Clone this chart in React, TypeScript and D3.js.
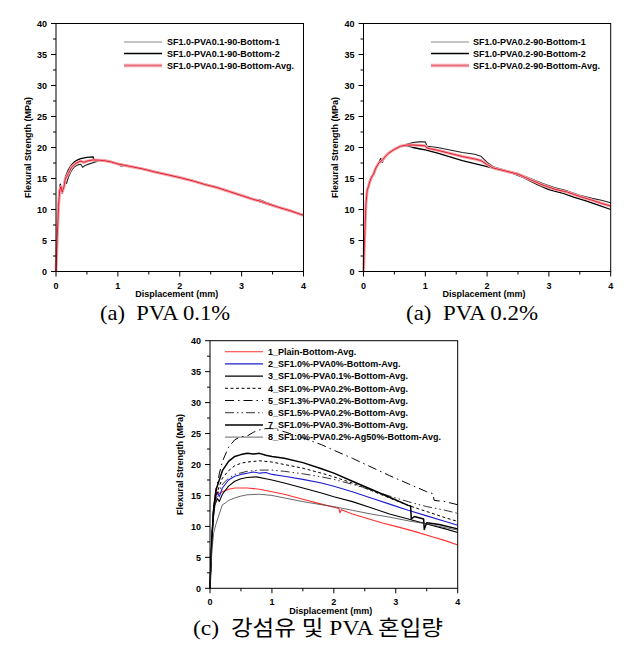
import React from "react";
import * as d3 from "d3";

type Pt = [number, number];

// ---------- tick values ----------
const xTickValues = [0, 1, 2, 3, 4];
const xMinorValues = [0.5, 1.5, 2.5, 3.5];
const yTickValues = [0, 5, 10, 15, 20, 25, 30, 35, 40];
const yMinorValues = [2.5, 7.5, 12.5, 17.5, 22.5, 27.5, 32.5, 37.5];

// ---------- panel (a) PVA 0.1 ----------
const a01Names = ["SF1.0-PVA0.1-90-Bottom-1", "SF1.0-PVA0.1-90-Bottom-2", "SF1.0-PVA0.1-90-Bottom-Avg."];
const a01Spec1: Pt[] = [[0,0],[0.02,5],[0.04,10],[0.06,12.8],[0.08,13.6],[0.1,12.6],[0.13,13.6],[0.15,14.6],[0.17,14.2],[0.2,15.2],[0.25,16.3],[0.3,16.9],[0.35,17.2],[0.4,17.3],[0.43,16.8],[0.47,17.1],[0.55,17.4],[0.65,17.7],[0.7,17.9],[0.8,17.8],[0.9,17.6],[1.0,17.3],[1.05,17.0],[1.1,17.1],[1.2,16.9],[1.4,16.5],[1.6,16.0],[1.8,15.6],[2.0,15.2],[2.2,14.6],[2.4,14.0],[2.6,13.5],[2.8,12.9],[3.0,12.3],[3.2,11.6],[3.3,11.2],[3.4,10.9],[3.6,10.3],[3.8,9.7],[4.0,9.0]];
const a01Spec2: Pt[] = [[0,0],[0.02,6],[0.04,11],[0.06,13.4],[0.07,14.1],[0.09,13.1],[0.1,12.7],[0.12,13.6],[0.15,15.2],[0.2,16.4],[0.25,17.2],[0.3,17.7],[0.35,18.0],[0.4,18.2],[0.5,18.4],[0.6,18.5],[0.62,17.8],[0.66,18.0],[0.7,18.0],[0.8,17.9],[0.9,17.7],[1.0,17.4],[1.2,17.0],[1.4,16.6],[1.6,16.1],[1.8,15.6],[2.0,15.1],[2.2,14.7],[2.4,14.1],[2.6,13.6],[2.8,12.9],[3.0,12.2],[3.2,11.6],[3.3,11.5],[3.4,11.1],[3.6,10.4],[3.8,9.8],[4.0,9.1]];
const a01Avg: Pt[] = [[0,0],[0.02,5.5],[0.04,10.5],[0.06,13.1],[0.08,13.7],[0.1,12.8],[0.13,13.7],[0.15,14.9],[0.2,15.8],[0.25,16.8],[0.3,17.3],[0.35,17.6],[0.4,17.8],[0.45,17.6],[0.5,17.8],[0.6,18.0],[0.7,17.95],[0.8,17.85],[0.9,17.65],[1.0,17.35],[1.2,16.95],[1.4,16.55],[1.6,16.05],[1.8,15.6],[2.0,15.15],[2.2,14.65],[2.4,14.05],[2.6,13.55],[2.8,12.9],[3.0,12.25],[3.2,11.6],[3.3,11.35],[3.4,11.0],[3.6,10.35],[3.8,9.75],[4.0,9.05]];

// ---------- panel (a) PVA 0.2 ----------
const a02Names = ["SF1.0-PVA0.2-90-Bottom-1", "SF1.0-PVA0.2-90-Bottom-2", "SF1.0-PVA0.2-90-Bottom-Avg."];
const a02Spec1: Pt[] = [[0,0],[0.02,6],[0.04,11],[0.06,13.2],[0.08,13.9],[0.1,14.3],[0.13,15.0],[0.16,15.8],[0.2,16.8],[0.25,17.5],[0.3,18.1],[0.4,19.0],[0.5,19.7],[0.6,20.2],[0.7,20.5],[0.8,20.8],[0.9,20.9],[1.0,20.9],[1.03,20.2],[1.2,20.0],[1.4,19.6],[1.6,19.2],[1.8,18.9],[1.9,18.6],[2.0,17.6],[2.1,16.9],[2.3,16.3],[2.5,15.8],[2.7,15.0],[2.9,14.2],[3.1,13.5],[3.3,13.0],[3.5,12.3],[3.7,11.8],[3.85,11.5],[4.0,11.1]];
const a02Spec2: Pt[] = [[0,0],[0.02,6],[0.04,11],[0.06,13.0],[0.08,13.5],[0.1,14.6],[0.13,15.4],[0.16,15.5],[0.2,16.6],[0.25,17.6],[0.28,18.2],[0.3,17.6],[0.35,18.5],[0.4,19.1],[0.5,19.7],[0.6,20.2],[0.7,20.3],[0.8,20.0],[0.9,19.8],[1.0,19.6],[1.2,19.1],[1.4,18.5],[1.6,17.9],[1.8,17.4],[2.0,16.9],[2.2,16.4],[2.4,15.9],[2.6,15.1],[2.8,14.1],[3.0,13.2],[3.2,12.7],[3.4,12.0],[3.6,11.4],[3.8,10.7],[4.0,10.0]];
const a02Avg: Pt[] = [[0,0],[0.02,6],[0.04,11],[0.06,13.1],[0.08,13.7],[0.1,14.45],[0.13,15.2],[0.16,15.65],[0.2,16.7],[0.25,17.55],[0.3,17.9],[0.35,18.5],[0.4,19.05],[0.5,19.7],[0.6,20.2],[0.7,20.4],[0.8,20.4],[0.9,20.35],[1.0,20.25],[1.03,19.9],[1.2,19.55],[1.4,19.05],[1.6,18.55],[1.8,18.15],[1.9,17.9],[2.0,17.25],[2.1,16.7],[2.3,16.2],[2.5,15.7],[2.7,14.8],[2.9,13.95],[3.1,13.25],[3.3,12.8],[3.5,12.1],[3.7,11.5],[3.85,11.0],[4.0,10.55]];

// ---------- panel (c) ----------
const cNames = [
  "1_Plain-Bottom-Avg.",
  "2_SF1.0%-PVA0%-Bottom-Avg.",
  "3_SF1.0%-PVA0.1%-Bottom-Avg.",
  "4_SF1.0%-PVA0.2%-Bottom-Avg.",
  "5_SF1.3%-PVA0.2%-Bottom-Avg.",
  "6_SF1.5%-PVA0.2%-Bottom-Avg.",
  "7_SF1.0%-PVA0.3%-Bottom-Avg.",
  "8_SF1.0%-PVA0.2%-Ag50%-Bottom-Avg.",
];
const c1: Pt[] = [[0,0],[0.02,6],[0.05,12],[0.08,15],[0.1,16.2],[0.12,15.2],[0.15,15.3],[0.2,15.6],[0.3,16],[0.4,16.2],[0.5,16.2],[0.6,16.2],[0.8,16.0],[1.0,15.6],[1.2,15.2],[1.5,14.4],[1.8,13.6],[2.0,13.1],[2.08,12.9],[2.1,12.2],[2.12,12.7],[2.3,12.0],[2.5,11.4],[2.8,10.5],[3.0,10.0],[3.3,9.2],[3.6,8.3],[3.8,7.7],[4.0,7.0]];
const c2: Pt[] = [[0,0],[0.02,6],[0.05,12],[0.08,14.5],[0.12,15.5],[0.15,14.8],[0.2,16.2],[0.3,17.5],[0.4,18.1],[0.5,18.4],[0.6,18.6],[0.7,18.8],[0.8,18.6],[0.9,18.7],[1.0,18.4],[1.2,18.1],[1.5,17.6],[1.8,17.0],[2.0,16.5],[2.3,15.6],[2.6,14.6],[2.9,13.6],[3.2,12.6],[3.5,11.7],[3.8,10.8],[4.0,10.2]];
const c3: Pt[] = [[0,0],[0.02,6],[0.05,11],[0.08,13.5],[0.12,14.5],[0.15,14.0],[0.2,15.2],[0.3,16.5],[0.4,17.3],[0.5,17.7],[0.6,17.9],[0.75,18.0],[0.9,17.7],[1.0,17.5],[1.2,17.0],[1.5,16.2],[1.8,15.4],[2.0,14.8],[2.3,14.0],[2.6,13.0],[2.9,12.0],[3.2,11.2],[3.5,10.4],[3.8,9.6],[4.0,9.0]];
const c4: Pt[] = [[0,0],[0.03,8],[0.06,13],[0.1,15],[0.15,16.5],[0.2,17.8],[0.3,19.0],[0.4,19.8],[0.5,20.2],[0.6,20.4],[0.8,20.6],[1.0,20.4],[1.2,20.0],[1.5,19.4],[1.8,18.6],[2.0,18.0],[2.3,17.0],[2.6,15.8],[2.9,14.6],[3.2,13.4],[3.5,12.4],[3.8,11.4],[4.0,10.8]];
const c5: Pt[] = [[0,0],[0.03,8],[0.06,13],[0.1,16],[0.15,18.5],[0.2,20.5],[0.3,22.8],[0.4,24.0],[0.5,24.5],[0.6,24.6],[0.7,25.2],[0.8,25.6],[0.9,25.8],[1.0,25.8],[1.2,25.3],[1.5,24.3],[1.8,23.2],[2.0,22.3],[2.3,21.0],[2.6,19.6],[2.9,18.2],[3.2,16.9],[3.5,15.6],[3.6,15.3],[3.62,14.2],[3.8,14.0],[4.0,13.5]];
const c6: Pt[] = [[0,0],[0.03,8],[0.06,12.5],[0.1,14.5],[0.15,15.8],[0.2,16.8],[0.3,17.8],[0.4,18.4],[0.6,18.9],[0.8,19.1],[1.0,19.1],[1.2,18.9],[1.5,18.5],[1.8,18.0],[2.0,17.6],[2.3,16.8],[2.6,15.9],[2.9,14.9],[3.2,14.0],[3.5,13.2],[3.8,12.6],[4.0,12.1]];
const c7: Pt[] = [[0,0],[0.03,8],[0.06,13],[0.1,16],[0.15,17.5],[0.2,19.0],[0.3,20.5],[0.4,21.3],[0.5,21.6],[0.6,21.8],[0.7,21.7],[0.8,21.8],[0.9,21.5],[1.0,21.3],[1.2,21.0],[1.5,20.3],[1.8,19.3],[2.0,18.6],[2.3,17.3],[2.6,16.0],[2.9,14.7],[3.2,13.4],[3.24,13.3],[3.25,11.2],[3.3,11.6],[3.45,11.2],[3.46,9.5],[3.5,10.6],[3.7,10.3],[4.0,9.6]];
const c8: Pt[] = [[0,0],[0.03,6],[0.06,9],[0.1,10.5],[0.15,12.0],[0.2,13.5],[0.25,13.8],[0.3,14.2],[0.4,14.6],[0.5,14.9],[0.6,15.1],[0.8,15.2],[1.0,15.0],[1.2,14.6],[1.5,14.0],[1.8,13.5],[2.0,13.2],[2.3,12.6],[2.6,12.0],[2.9,11.5],[3.2,10.9],[3.5,10.4],[3.8,9.8],[4.0,9.4]];

const FONT = "Arial, 'Liberation Sans', sans-serif";

type Style = { stroke: string; width: number; dash?: string; halo?: string };

type Box = { left: number; right: number; top: number; bottom: number };

function Axes({ box, ylabelX }: { box: Box; ylabelX: number }) {
  const x = d3.scaleLinear().domain([0, 4]).range([box.left, box.right]);
  const y = d3.scaleLinear().domain([0, 40]).range([box.bottom, box.top]);
  const cx = (box.left + box.right) / 2 - 3;
  const cy = (box.top + box.bottom) / 2;
  return (
    <g>
      <rect x={box.left} y={box.top} width={box.right - box.left} height={box.bottom - box.top} fill="none" stroke="#000" strokeWidth={1} />
      {xTickValues.map((v) => (
        <g key={"xt" + v}>
          <line x1={x(v)} x2={x(v)} y1={box.bottom} y2={box.bottom + 5} stroke="#000" strokeWidth={1} />
          <text x={x(v)} y={box.bottom + 17} textAnchor="middle" fontFamily={FONT} fontWeight="bold" fontSize={9}>{v}</text>
        </g>
      ))}
      {xMinorValues.map((v) => (
        <line key={"xm" + v} x1={x(v)} x2={x(v)} y1={box.bottom} y2={box.bottom + 3} stroke="#000" strokeWidth={1} />
      ))}
      {yTickValues.map((v) => (
        <g key={"yt" + v}>
          <line x1={box.left - 5} x2={box.left} y1={y(v)} y2={y(v)} stroke="#000" strokeWidth={1} />
          <text x={box.left - 9} y={y(v) + 3.2} textAnchor="end" fontFamily={FONT} fontWeight="bold" fontSize={9}>{v}</text>
        </g>
      ))}
      {yMinorValues.map((v) => (
        <line key={"ym" + v} x1={box.left - 3} x2={box.left} y1={y(v)} y2={y(v)} stroke="#000" strokeWidth={1} />
      ))}
      <text x={cx} y={box.bottom + 25.5} textAnchor="middle" fontFamily={FONT} fontWeight="bold" fontSize={9}>Displacement (mm)</text>
      <text transform={`translate(${ylabelX},${cy}) rotate(-90)`} textAnchor="middle" fontFamily={FONT} fontWeight="bold" fontSize={9}>Flexural Strength (MPa)</text>
    </g>
  );
}

function Curves({ box, data, styles }: { box: Box; data: Pt[][]; styles: Style[] }) {
  const x = d3.scaleLinear().domain([0, 4]).range([box.left, box.right]);
  const y = d3.scaleLinear().domain([0, 40]).range([box.bottom, box.top]);
  const line = d3.line<Pt>().x((d) => x(d[0])).y((d) => y(d[1]));
  return (
    <g>
      {data.map((d, i) => (
        <g key={i}>
          {styles[i].halo && <path d={line(d) || ""} fill="none" stroke={styles[i].halo} strokeWidth={3} strokeLinejoin="round" />}
          <path d={line(d) || ""} fill="none" stroke={styles[i].stroke} strokeWidth={styles[i].width} strokeDasharray={styles[i].dash} strokeLinejoin="round" />
        </g>
      ))}
    </g>
  );
}

function Legend({ x0, x1, tx, rows, names, styles }: { x0: number; x1: number; tx: number; rows: number[]; names: string[]; styles: Style[] }) {
  return (
    <g>
      {names.map((n, i) => (
        <g key={n}>
          {styles[i].halo && <line x1={x0} x2={x1} y1={rows[i]} y2={rows[i]} stroke={styles[i].halo} strokeWidth={3.5} />}
          <line x1={x0} x2={x1} y1={rows[i]} y2={rows[i]} stroke={styles[i].stroke} strokeWidth={styles[i].halo ? 1 : styles[i].width} strokeDasharray={styles[i].dash} />
          <text x={tx} y={rows[i] + 3.3} fontFamily={FONT} fontWeight="bold" fontSize={9}>{n}</text>
        </g>
      ))}
    </g>
  );
}

const topStyles: Style[] = [
  { stroke: "#222", width: 1.1 },
  { stroke: "#000", width: 1.3 },
  { stroke: "#e4202e", width: 1, halo: "#f2a3ab" },
];
const topLegendStyles: Style[] = [
  { stroke: "#8a8a8a", width: 1 },
  { stroke: "#000", width: 1.3 },
  { stroke: "#e9707c", width: 1, halo: "#f0a0a8" },
];

const cStyles: Style[] = [
  { stroke: "#ff3030", width: 1.1 },
  { stroke: "#1c1cd0", width: 1.1 },
  { stroke: "#000", width: 1.1 },
  { stroke: "#000", width: 1, dash: "3,2.5" },
  { stroke: "#000", width: 1, dash: "9,4,1.5,4" },
  { stroke: "#333", width: 1, dash: "9,3,1.5,3,1.5,3" },
  { stroke: "#000", width: 1.5 },
  { stroke: "#444", width: 0.8 },
];

export default function App() {
  const boxA: Box = { left: 56, right: 303.5, top: 23.5, bottom: 271.5 };
  const boxB: Box = { left: 363.5, right: 610.7, top: 23.5, bottom: 271.5 };
  const boxC: Box = { left: 210, right: 457.7, top: 340.7, bottom: 588.3 };
  const topRows = [42, 53.5, 65.5];
  const cRows = cNames.map((_, i) => 351.7 + i * 12.2);
  return (
    <svg width={636} height={653} style={{ position: "absolute", left: 0, top: 0, background: "#fff" }}>
      <rect x={0} y={0} width={636} height={653} fill="#fff" />
      {/* panel a: PVA 0.1 */}
      <Curves box={boxA} data={[a01Spec1, a01Spec2, a01Avg]} styles={topStyles} />
      <Axes box={boxA} ylabelX={30.5} />
      <Legend x0={124} x1={162} tx={167} rows={topRows} names={a01Names} styles={topLegendStyles} />
      <text x={100} y={319.5} fontFamily="'Liberation Serif', 'Times New Roman', serif" fontSize={21} textLength={130} lengthAdjust="spacingAndGlyphs" xmlSpace="preserve">(a)  PVA 0.1%</text>

      {/* panel a: PVA 0.2 */}
      <Curves box={boxB} data={[a02Spec1, a02Spec2, a02Avg]} styles={topStyles} />
      <Axes box={boxB} ylabelX={337.5} />
      <Legend x0={431} x1={469} tx={473} rows={topRows} names={a02Names} styles={topLegendStyles} />
      <text x={406} y={319.5} fontFamily="'Liberation Serif', 'Times New Roman', serif" fontSize={21} textLength={132} lengthAdjust="spacingAndGlyphs" xmlSpace="preserve">(a)  PVA 0.2%</text>

      {/* panel c */}
      <Curves box={boxC} data={[c1, c2, c3, c4, c5, c6, c7, c8]} styles={cStyles} />
      <Axes box={boxC} ylabelX={183} />
      <Legend x0={225} x1={263} tx={268} rows={cRows} names={cNames} styles={cStyles} />
      <text x={193} y={635} fontFamily="'Liberation Serif', 'Noto Sans CJK KR', serif" fontSize={21} textLength={250} lengthAdjust="spacingAndGlyphs" xmlSpace="preserve">(c)  강섬유 및 PVA 혼입량</text>
    </svg>
  );
}
